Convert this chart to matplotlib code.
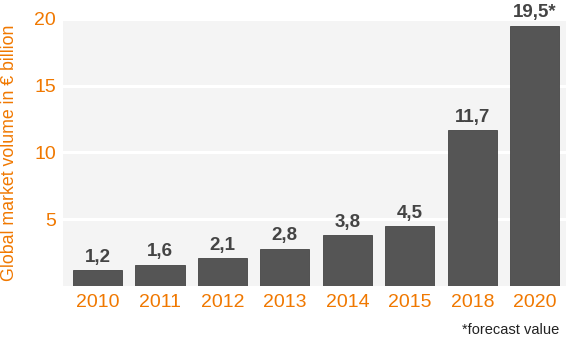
"""Global market volume bar chart."""

import matplotlib
matplotlib.use('Agg')
import matplotlib.pyplot as plt


years = ['2010', '2011', '2012', '2013', '2014', '2015', '2018', '2020']
volume = [1.2, 1.6, 2.1, 2.8, 3.8, 4.5, 11.7, 19.5]
forecast = [False, False, False, False, False, False, False, True]

orange = '#f07800'
bar_color = '#555555'

plt.rcParams['font.family'] = ['Liberation Sans', 'DejaVu Sans']

fig = plt.figure(figsize=(5.7, 3.44), dpi=100)
ax = fig.add_axes([0.1105, 0.1686, 0.8825, 0.7762])

ax.set_facecolor('#f4f4f4')
for s in ax.spines.values():
    s.set_visible(False)

xx = range(len(years))
ax.bar(xx, volume, width=0.785, color=bar_color, edgecolor='#444444',
       linewidth=0.6, zorder=3)

for x, v, f in zip(xx, volume, forecast):
    label = f'{v:.1f}'.replace('.', ',') + ('*' if f else '')
    ax.annotate(label, (x, v), xytext=(0, 3), textcoords='offset points',
                ha='center', va='bottom', fontsize=13.5, color='#444444',
                fontweight='bold', zorder=4)

ax.set_xlim(-0.553, 7.5)
ax.set_ylim(0, 20)
ax.set_yticks([5, 10, 15, 20])
ax.set_xticks(list(xx))
ax.set_xticklabels(years)

ax.grid(axis='y', color='white', linewidth=2.2, zorder=1)
ax.set_axisbelow(True)
ax.tick_params(length=0, labelsize=14, labelcolor=orange)
ax.tick_params(axis='x', pad=6)
ax.tick_params(axis='y', pad=5)

ax.set_ylabel('Global market volume in € billion', color=orange, fontsize=12.8)
ax.yaxis.set_label_coords(-0.09, 0.5)

fig.text(0.982, 0.02, '*forecast value', ha='right', va='bottom',
         fontsize=10.5, color='#222222')

fig.savefig('out.png', dpi=100)
